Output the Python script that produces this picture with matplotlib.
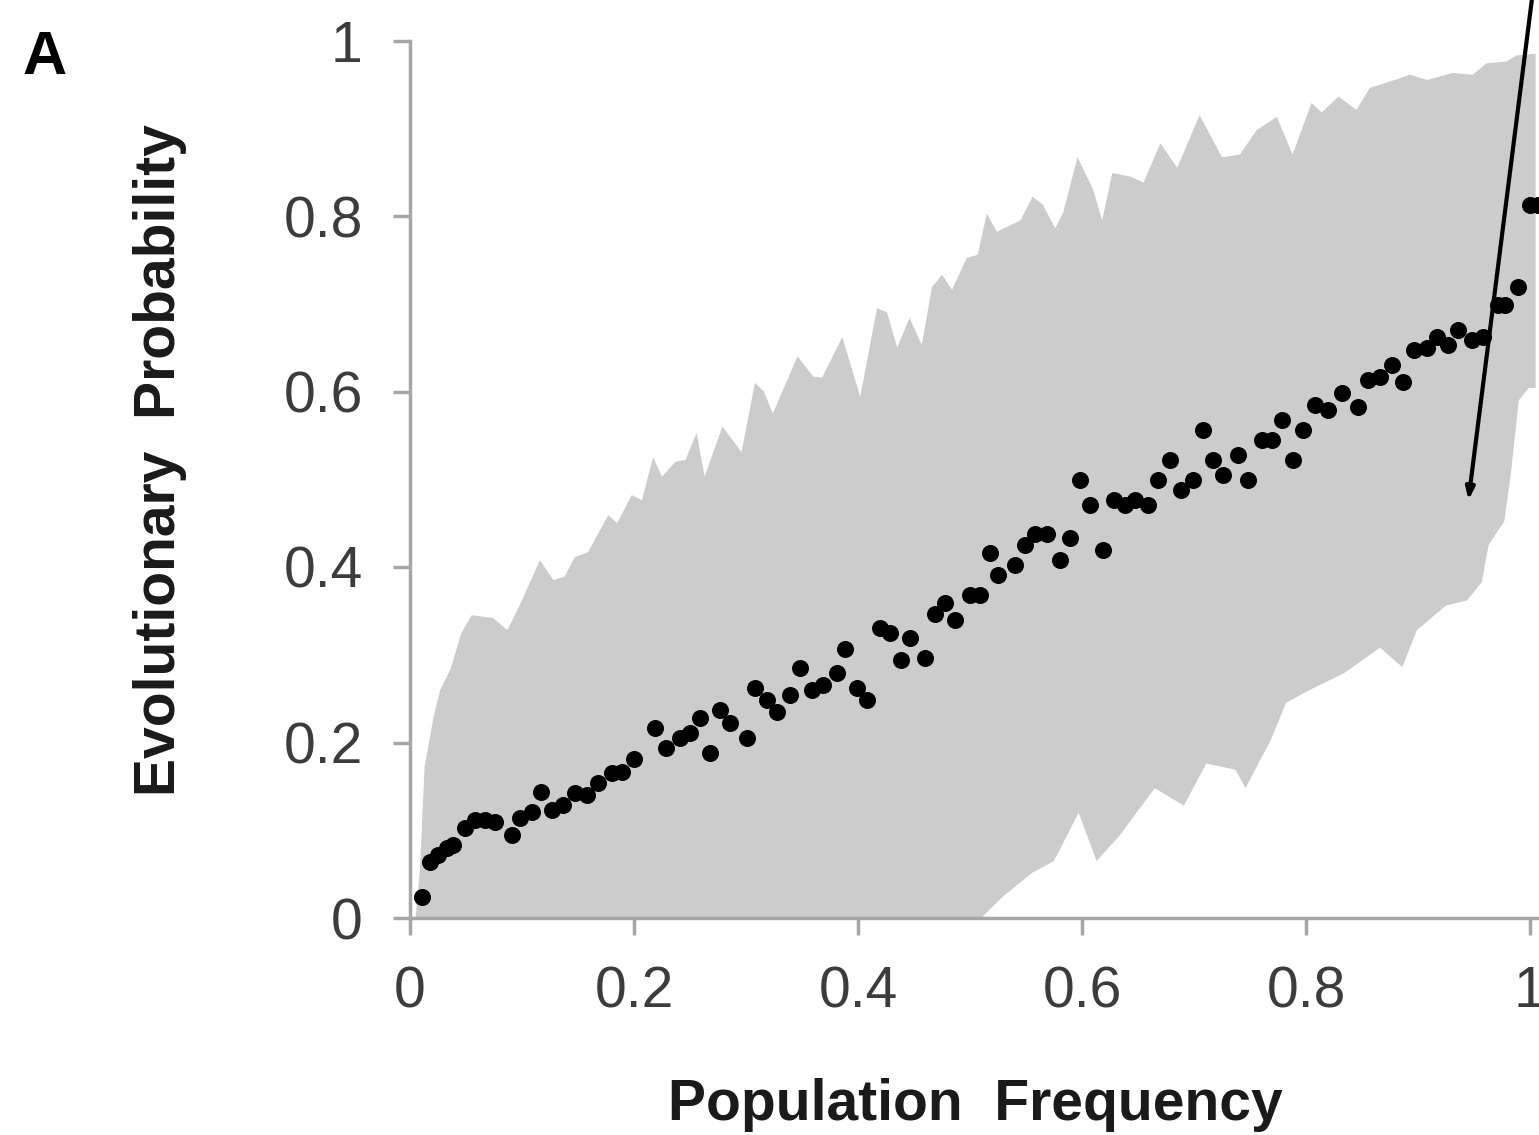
import matplotlib
matplotlib.use("Agg")
import matplotlib.pyplot as plt
import numpy as np

# ---- data ----
point_x = [0.011, 0.018, 0.025, 0.033, 0.038, 0.049, 0.058, 0.067, 0.076, 0.091,
           0.098, 0.109, 0.117, 0.127, 0.137, 0.147, 0.158, 0.168, 0.180, 0.189,
           0.200, 0.219, 0.229, 0.241, 0.250, 0.259, 0.268, 0.277, 0.286, 0.301,
           0.308, 0.319, 0.328, 0.339, 0.348, 0.359, 0.369, 0.381, 0.388, 0.399,
           0.408, 0.420, 0.429, 0.438, 0.446, 0.460, 0.469, 0.478, 0.487, 0.500,
           0.509, 0.518, 0.525, 0.540, 0.549, 0.558, 0.569, 0.580, 0.589, 0.598,
           0.607, 0.619, 0.629, 0.638, 0.647, 0.659, 0.668, 0.679, 0.688, 0.699,
           0.708, 0.717, 0.726, 0.739, 0.748, 0.761, 0.770, 0.779, 0.788, 0.797,
           0.808, 0.820, 0.832, 0.846, 0.855, 0.866, 0.877, 0.887, 0.896, 0.908,
           0.917, 0.927, 0.936, 0.948, 0.958, 0.971, 0.978, 0.989, 1.000, 1.007]
point_y = [0.024, 0.064, 0.072, 0.080, 0.083, 0.103, 0.112, 0.112, 0.109, 0.095,
           0.114, 0.121, 0.144, 0.123, 0.129, 0.142, 0.140, 0.154, 0.165, 0.166,
           0.181, 0.216, 0.194, 0.205, 0.211, 0.228, 0.188, 0.237, 0.222, 0.205,
           0.262, 0.248, 0.235, 0.254, 0.285, 0.260, 0.266, 0.279, 0.307, 0.262,
           0.248, 0.330, 0.325, 0.294, 0.319, 0.296, 0.347, 0.359, 0.340, 0.368,
           0.368, 0.416, 0.391, 0.402, 0.425, 0.438, 0.438, 0.408, 0.433, 0.499,
           0.471, 0.419, 0.476, 0.471, 0.476, 0.471, 0.499, 0.522, 0.488, 0.499,
           0.556, 0.522, 0.505, 0.528, 0.499, 0.545, 0.545, 0.568, 0.522, 0.556,
           0.585, 0.579, 0.598, 0.582, 0.613, 0.617, 0.630, 0.611, 0.647, 0.650,
           0.662, 0.653, 0.670, 0.659, 0.662, 0.699, 0.699, 0.719, 0.812, 0.812]

upper_x = [0.005, 0.009, 0.013, 0.021, 0.027, 0.036, 0.046, 0.055, 0.074, 0.087,
           0.100, 0.116, 0.128, 0.138, 0.147, 0.159, 0.177, 0.185, 0.198, 0.207,
           0.217, 0.225, 0.237, 0.246, 0.256, 0.263, 0.279, 0.296, 0.308, 0.316,
           0.324, 0.346, 0.360, 0.368, 0.386, 0.402, 0.417, 0.426, 0.435, 0.446,
           0.457, 0.466, 0.475, 0.484, 0.497, 0.507, 0.515, 0.524, 0.545, 0.556,
           0.565, 0.576, 0.583, 0.596, 0.610, 0.618, 0.627, 0.643, 0.655, 0.670,
           0.685, 0.705, 0.725, 0.741, 0.756, 0.774, 0.788, 0.805, 0.814, 0.829,
           0.845, 0.857, 0.872, 0.893, 0.908, 0.931, 0.949, 0.961, 0.979, 0.988,
           1.005]
upper_y = [0.000, 0.058, 0.172, 0.229, 0.260, 0.283, 0.325, 0.345, 0.342, 0.328,
           0.362, 0.408, 0.385, 0.389, 0.411, 0.417, 0.459, 0.450, 0.482, 0.476,
           0.525, 0.503, 0.520, 0.522, 0.553, 0.503, 0.560, 0.531, 0.610, 0.600,
           0.575, 0.640, 0.617, 0.616, 0.662, 0.594, 0.695, 0.690, 0.650, 0.684,
           0.653, 0.719, 0.733, 0.716, 0.752, 0.756, 0.803, 0.782, 0.795, 0.822,
           0.813, 0.786, 0.803, 0.867, 0.830, 0.795, 0.849, 0.845, 0.838, 0.883,
           0.855, 0.915, 0.867, 0.870, 0.898, 0.913, 0.870, 0.929, 0.918, 0.936,
           0.921, 0.946, 0.952, 0.961, 0.955, 0.963, 0.961, 0.974, 0.976, 0.983,
           0.985]

lower_x = [0.005, 0.510, 0.529, 0.555, 0.575, 0.597, 0.613, 0.633, 0.665, 0.691,
           0.711, 0.737, 0.746, 0.769, 0.782, 0.802, 0.834, 0.866, 0.886, 0.899,
           0.925, 0.944, 0.957, 0.963, 0.977, 0.983, 0.990, 0.999, 1.005]
lower_y = [0.000, 0.000, 0.024, 0.051, 0.065, 0.120, 0.065, 0.093, 0.148, 0.128,
           0.176, 0.169, 0.148, 0.204, 0.245, 0.259, 0.279, 0.308, 0.286, 0.328,
           0.356, 0.362, 0.383, 0.425, 0.452, 0.507, 0.590, 0.604, 0.604]

x_ticks = [0, 0.2, 0.4, 0.6, 0.8, 1.0]
x_tick_labels = ["0", "0.2", "0.4", "0.6", "0.8", "1"]
y_ticks = [0, 0.2, 0.4, 0.6, 0.8, 1.0]
y_tick_labels = ["0", "0.2", "0.4", "0.6", "0.8", "1"]

# ---- figure ----
W, H = 1539, 1135
fig = plt.figure(figsize=(W / 100, H / 100), dpi=100)
plt.rcParams['font.family'] = ['Liberation Sans', 'DejaVu Sans']

left_px, bottom_px, top_px, x1_px = 410, 918, 40.5, 1530
xmax = 1.05
ax_w = (x1_px - left_px) * xmax / W
ax = fig.add_axes([left_px / W, 1 - bottom_px / H, ax_w, (bottom_px - top_px) / H])

poly_x = list(upper_x) + list(lower_x[::-1])
poly_y = list(upper_y) + list(lower_y[::-1])
ax.fill(poly_x, poly_y, color="#cccccc", lw=0, zorder=1)

ax.scatter(point_x, point_y, s=150, color="black", lw=0, zorder=3)

ax.set_xlim(0, xmax)
ax.set_ylim(0, 1)
ax.set_xticks(x_ticks)
ax.set_xticklabels(x_tick_labels)
ax.set_yticks(y_ticks)
ax.set_yticklabels(y_tick_labels)

spine_c = "#a6a6a6"
for s in ["top", "right"]:
    ax.spines[s].set_visible(False)
for s in ["left", "bottom"]:
    ax.spines[s].set_color(spine_c)
    ax.spines[s].set_linewidth(2.5)
ax.tick_params(axis="both", direction="out", length=12, width=2.5, color=spine_c,
               labelsize=41, labelcolor="#3c3c3c", pad=22)
for lbl in ax.get_xticklabels():
    lbl.set_x(lbl.get_position()[0])

ax.set_ylabel("Evolutionary  Probability", fontsize=41, fontweight="bold",
              color="#1a1a1a", labelpad=0)
ax.yaxis.set_label_coords(-(left_px - 160) / (ax_w * W), (bottom_px - 460) / (bottom_px - top_px))
ax.set_xlabel("Population  Frequency", fontsize=41, fontweight="bold",
              color="#1a1a1a")
ax.xaxis.set_label_coords((975 - left_px) / (ax_w * W), -(1105 - bottom_px) / (bottom_px - top_px))
ax.xaxis.label.set_va("center")
ax.yaxis.label.set_va("center")

# arrow
ax.annotate("", xy=(0.945, 0.476), xytext=(1.003, 1.06), xycoords="data",
            textcoords="data", annotation_clip=False,
            arrowprops=dict(arrowstyle="-|>,head_length=0.7,head_width=0.25",
                            color="black", lw=3, shrinkA=0, shrinkB=0), zorder=4)

fig.text(22 / W, 1 - 58 / H, "A", fontsize=44, fontweight="bold", va="center",
         ha="left", color="black")

fig.savefig("out.png", dpi=100)
